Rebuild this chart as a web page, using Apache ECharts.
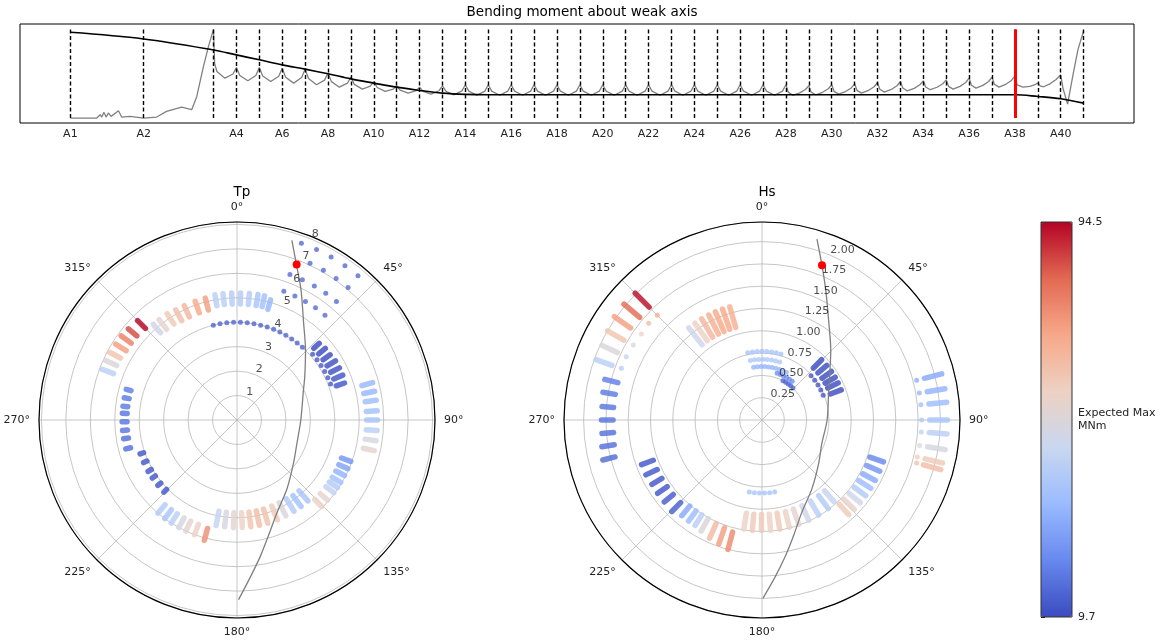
<!DOCTYPE html>
<html><head><meta charset="utf-8">
<script src="https://cdn.jsdelivr.net/npm/echarts@6/dist/echarts.min.js"></script>
<style>html,body{margin:0;padding:0;background:#fff}#c{width:1176px;height:644px}</style>
</head><body><div id="c"></div>
<script>
// ---------------- DATA ----------------
const stations = ['A1','A2','A3','A4','A5','A6','A7','A8','A9','A10','A11','A12','A13','A14','A15','A16','A17','A18','A19','A20','A21','A22','A23','A24','A25','A26','A27','A28','A29','A30','A31','A32','A33','A34','A35','A36','A37','A38','A39','A40','A41'];
const stationPos = [0,3.2,6.25,7.25,8.25,9.25,10.25,11.25,12.25,13.25,14.25,15.25,16.25,17.25,18.25,19.25,20.25,21.25,22.25,23.25,24.25,25.25,26.25,27.25,28.25,29.25,30.25,31.25,32.25,33.25,34.25,35.25,36.25,37.25,38.25,39.25,40.25,41.25,42.25,43.25,44.25];
const stationLabels = ['A1','A2','','A4','','A6','','A8','','A10','','A12','','A14','','A16','','A18','','A20','','A22','','A24','','A26','','A28','','A30','','A32','','A34','','A36','','A38','','A40',''];
const selectedStation = 'A38';
// black curve, value at each station
const momentEnvelope = [91.6,84.9,73.8,68.8,63.8,58.7,54.4,49.7,44.6,40.3,36.2,32.9,30.2,28.9,28.5,28.5,28.5,28.5,28.5,28.5,28.5,28.5,28.5,28.5,28.5,28.5,28.5,28.5,28.5,28.5,28.5,28.5,28.5,28.5,28.5,28.5,28.5,28.5,26.8,24.5,20.1];
// gray curve [position, value]
const momentProfile = [
 [0,5.0],[1.15,5.0],[1.3,8.4],[1.37,6.0],[1.47,10.7],[1.56,6.0],[1.66,10.1],[1.78,6.7],[2.1,12.4],[2.24,6.0],[2.6,6.7],[3.2,5.0],
 [3.77,6.0],[4.2,11.7],[4.86,16.1],[5.3,13.4],[5.52,26.8],[5.81,57.0],[6.03,77.2],[6.25,94.6],
 [6.3,60.0],[6.4,52.0],[6.75,45.3],[7.1,49.5],[7.25,56.0],
 [7.4,48.0],[7.75,42.6],[8.1,48.0],[8.25,56.0],
 [8.4,47.5],[8.75,41.9],[9.1,47.3],[9.25,55.4],
 [9.4,46.3],[9.75,40.3],[10.1,45.9],[10.25,54.4],
 [10.4,44.9],[10.75,38.6],[11.1,43.3],[11.25,50.3],
 [11.4,41.8],[11.75,36.2],[12.1,40.2],[12.25,46.3],
 [12.4,39.0],[12.75,34.2],[13.1,37.3],[13.25,41.9],
 [13.4,35.9],[13.75,31.9],[14.1,34.2],[14.25,37.6],
 [14.4,33.2],[14.75,30.2],[15.1,32.6],[15.25,36.2],
 [15.4,32.0],[15.75,29.2],[16.1,32.6],[16.25,37.6],
 [16.4,32.1],[16.75,28.5],[17.1,32.5],[17.25,38.6],
 [17.4,32.2],[17.75,28.0],[18.1,32.2],[18.25,38.6],
 [18.4,32.2],[18.75,28.0],[19.1,32.2],[19.25,38.6],
 [19.4,32.2],[19.75,28.0],[20.1,32.2],[20.25,38.6],
 [20.4,32.2],[20.75,28.0],[21.1,32.2],[21.25,38.6],
 [21.4,32.2],[21.75,28.0],[22.1,32.2],[22.25,38.6],
 [22.4,32.2],[22.75,28.0],[23.1,32.2],[23.25,38.6],
 [23.4,32.2],[23.75,28.0],[24.1,32.2],[24.25,38.6],
 [24.4,32.2],[24.75,28.0],[25.1,32.2],[25.25,38.6],
 [25.4,32.2],[25.75,28.0],[26.1,32.2],[26.25,38.6],
 [26.4,32.2],[26.75,28.0],[27.1,32.2],[27.25,38.6],
 [27.4,32.2],[27.75,28.0],[28.1,32.2],[28.25,38.6],
 [28.4,32.2],[28.75,28.0],[29.1,32.2],[29.25,38.6],
 [29.4,32.2],[29.75,28.0],[30.1,32.2],[30.25,38.6],
 [30.4,32.2],[30.75,28.0],[31.1,32.2],[31.25,38.6],
 [31.35,31.2],[31.55,28.0],[31.85,30.4],[32.1,33.8],[32.25,37.6],
 [32.35,31.2],[32.55,28.5],[32.85,31.0],[33.1,34.6],[33.25,38.6],
 [33.35,32.0],[33.55,29.2],[33.85,31.8],[34.1,35.4],[34.25,39.6],
 [34.35,33.0],[34.55,30.2],[34.85,32.9],[35.1,36.6],[35.25,40.9],
 [35.35,34.1],[35.55,31.2],[35.85,33.9],[36.1,37.6],[36.25,41.9],
 [36.35,35.3],[36.55,32.5],[36.85,35.0],[37.1,38.6],[37.25,42.6],
 [37.35,36.3],[37.55,33.6],[37.85,36.1],[38.1,39.6],[38.25,43.6],
 [38.35,37.0],[38.55,34.2],[38.85,37.0],[39.1,40.9],[39.25,45.3],
 [39.35,38.2],[39.55,35.2],[39.85,38.0],[40.1,41.9],[40.25,46.3],
 [40.35,39.2],[40.55,36.2],[40.85,39.1],[41.1,43.0],[41.25,47.7],
 [41.35,38.6],[41.6,36.2],[41.9,37.0],[42.1,38.4],[42.25,40.3],
 [42.35,37.5],[42.5,36.6],[42.8,39.8],[43.05,44.0],[43.25,48.7],
 [43.35,35.0],[43.55,19.1],[43.8,50.3],[44.0,73.8],[44.25,93.3]
];

// Polar plots: dashes [direction deg, from, to, expected max MNm], dots [direction deg, value, expected max]
const tpDashes = [
 [47,4.3,4.6,10],[51,4.3,4.65,10],[55,4.3,4.65,10],[59,4.3,4.7,11],[63,4.3,4.7,11],[67,4.3,4.7,12],[71,4.3,4.65,12],
 [350,4.75,5.2,42],[353.7,4.75,5.2,42],[357.6,4.75,5.2,41],[1.6,4.75,5.2,40],[5.6,4.75,5.2,40],[9.5,4.75,5.2,38],[12.5,4.75,5.2,36],[15.6,4.7,5.1,33],
 [345.4,4.65,5.15,72],[340.6,4.65,5.15,70],[335.2,4.65,5.15,66],[330.9,4.65,5.15,64],[326.7,4.7,5.2,60],[322.2,4.7,5.2,55],[318.8,4.75,5.2,48],
 [315,5.3,5.75,94.5],[310,5.35,5.8,86],[306,5.35,5.85,78],[302,5.35,5.85,72],[298,5.4,5.9,62],[294.4,5.4,5.9,52],[290.6,5.4,5.9,42],
 [285.5,4.5,4.7,20],[281.2,4.5,4.7,19],[276.9,4.5,4.7,19],[273.4,4.5,4.7,18],[269.1,4.5,4.7,18],[264.8,4.5,4.7,18],[260.6,4.5,4.7,17],[255.4,4.5,4.7,17],
 [250.7,4.05,4.2,12],[245.5,4.05,4.2,12],[240,4.05,4.2,12],[235.6,4.05,4.2,12],[230.4,4.05,4.2,12],[225.4,4.05,4.2,12],
 [220.3,4.55,5.0,40],[216.2,4.55,5.0,38],[212.5,4.55,5.0,42],[208.4,4.55,5.0,50],[204.7,4.55,5.0,55],[200.3,4.55,5.0,57],[195.2,4.6,5.1,75],
 [191.2,3.8,4.4,45],[186.6,3.8,4.4,50],[181.9,3.8,4.4,55],[177.2,3.8,4.4,58],[172.6,3.8,4.4,62],[168,3.8,4.4,64],[163.4,3.8,4.4,63],[158,3.8,4.4,60],[153,3.8,4.4,52],[148,3.8,4.4,40],[143.5,3.85,4.4,36],[138.8,3.85,4.4,38],
 [110,4.55,4.95,25],[113.7,4.55,4.95,28],[117.3,4.55,4.95,32],[121,4.55,4.95,36],[123.9,4.55,4.95,40],[126.9,4.55,4.95,44],[131.5,4.55,4.95,55],[135.6,4.55,4.95,58],
 [74.6,5.3,5.75,33],[78.2,5.3,5.75,33],[81.9,5.3,5.75,35],[86.2,5.3,5.75,36],[90,5.3,5.75,38],[94.3,5.3,5.75,42],[98.5,5.3,5.75,50],[102.6,5.3,5.75,55]
];
const tpDots = [
 [20,7.7,14],[25,7.7,14],[30,7.7,14],[35,7.7,14],[40,7.7,14],
 [25,7.07,14],[30,7.07,14],[35,7.07,14],[40,7.07,14],
 [20,6.33,14],[25,6.33,14],[30,6.33,14],[35,6.33,14],[40,6.33,14],
 [20,5.6,14],[25,5.6,14],[30,5.6,14],[35,5.6,14],[40,5.6,14],
 [346,4.0,13],[350,4.0,13],[354,4.0,13],[358,4.0,13],[2,4.0,13],[6,4.0,13],[10,4.0,13],[14,4.0,13],[18,4.0,13],[22,4.0,13],[26,4.0,13],[30,4.0,13],[34,4.0,13],[38,4.0,13],[42,4.0,13],
 [49,4.1,10],[53,4.1,10],[57,4.1,10],[61,4.1,10],[65,4.1,10],[69,4.1,10]
];
const hsDashes = [
 [315,1.79,2.01,93],[310,1.79,2.02,82],[305,1.8,2.02,72],[300,1.79,2.0,62],[295,1.79,1.98,52],[290,1.79,1.98,42],
 [284.5,1.67,1.82,20],[279.9,1.67,1.81,19],[274.8,1.67,1.8,18],[270,1.67,1.8,18],[265.2,1.67,1.8,17],[260.5,1.68,1.82,17],[255.9,1.7,1.84,16],
 [249.7,1.3,1.44,12],[244.7,1.3,1.44,12],[239.7,1.3,1.43,12],[234.9,1.3,1.43,12],[230,1.3,1.43,13],[224.6,1.3,1.44,14],
 [220,1.26,1.4,30],[216,1.26,1.4,35],[212.4,1.26,1.4,42],[208.7,1.26,1.42,52],[203.9,1.27,1.45,65],[199.2,1.28,1.47,72],[194.7,1.3,1.5,76],
 [189.5,1.06,1.24,58],[185,1.06,1.24,60],[180.3,1.06,1.24,60],[175.6,1.06,1.24,58],[170.8,1.06,1.24,60],[165.7,1.06,1.24,58],[160.6,1.06,1.24,55],[155,1.06,1.24,48],[149.2,1.06,1.24,42],[143.2,1.06,1.24,40],[138.6,1.06,1.22,45],
 [109,1.28,1.44,22],[113.5,1.28,1.44,25],[118.1,1.28,1.44,30],[122.1,1.28,1.44,35],[126.1,1.28,1.44,40],[130.1,1.28,1.44,48],[134.1,1.28,1.44,56],[137.5,1.28,1.44,60],
 [75.6,1.88,2.08,30],[80.3,1.88,2.08,32],[84.5,1.88,2.08,35],[90,1.88,2.08,38],[94.3,1.88,2.08,42],[99.2,1.88,2.08,50],[103.4,1.88,2.08,60],[105.5,1.88,2.08,64],
 [321.5,1.08,1.32,48],[325.3,1.08,1.32,58],[329.2,1.08,1.32,66],[333.1,1.08,1.32,68],[336.7,1.08,1.32,70],[340.4,1.08,1.32,70],[344.1,1.08,1.32,68],
 [44.7,0.82,0.95,10],[49.9,0.82,0.95,10],[55.1,0.82,0.95,10],[59.7,0.82,0.95,10],[64,0.82,0.95,10],[69.2,0.82,0.95,10]
];
const hsDots = [
 [315,1.66,70],[310.5,1.67,66],[305.5,1.66,58],[300.2,1.67,50],[295,1.68,44],[290.2,1.68,40],
 [75.6,1.79,30],[80.3,1.79,32],[84.5,1.79,35],[90,1.79,38],[94.3,1.79,42],[99.2,1.79,50],[103.4,1.79,60],[105.5,1.8,64],
 [170,0.82,36],[174,0.82,36],[178,0.82,36],[182,0.82,36],[186,0.82,36],[190,0.82,36],
 [348,0.77,36],[352,0.77,36],[356,0.77,36],[0,0.77,36],[4,0.77,36],[8,0.77,36],[12,0.77,36],[16,0.77,36],
 [349,0.68,38],[353,0.68,38],[357,0.68,38],[1,0.68,38],[5,0.68,38],[9,0.68,38],[13,0.68,38],[17,0.68,38],
 [351,0.6,32],[355,0.6,32],[359,0.6,32],[3,0.6,32],[7,0.6,32],[11,0.6,32],[15,0.6,32],[19,0.6,32],[23,0.6,32],[27,0.6,32],
 [18,0.55,22],[22,0.55,22],[26,0.55,22],[30,0.55,22],[34,0.55,22],[38,0.55,22],
 [28,0.5,14],[32,0.5,14],[36,0.5,14],[40,0.5,14],[44,0.5,14],
 [48,0.74,10],[53,0.74,10],[58,0.74,10],[63,0.74,10],[68,0.74,10]
];
// gray heading path [value, direction]
const tpPath = [[7.68,17],[6.72,21.4],[5.93,26.2],[4.8,34.6],[4.0,44.5],[3.29,57.4],[2.98,65.8],[2.61,90],[2.63,111.2],[2.91,127.4],[3.47,143.8],[4.14,156.8],[4.88,164.6],[5.66,170.3],[6.44,175.1],[7.35,179.5]];
const hsPath = [[2.12,16.9],[1.86,21.2],[1.62,26.2],[1.32,34.6],[1.1,44.5],[0.9,57.4],[0.82,65.8],[0.73,90],[0.72,111.2],[0.8,127.4],[0.95,143.8],[1.13,156.8],[1.34,164.6],[1.55,170.3],[1.76,175.1],[2.0,179.7]];
// current state [value, direction]
const tpCurrent = [6.81, 21];
const hsCurrent = [1.86, 21.2];
// ring ticks
const tpRingTicks = [1,2,3,4,5,6,7,8];
const tpRingLabels = ['1','2','3','4','5','6','7','8'];
const hsRingTicks = [0.25,0.5,0.75,1.0,1.25,1.5,1.75,2.0];
const hsRingLabels = ['0.25','0.50','0.75','1.00','1.25','1.50','1.75','2.00'];
const angleTicks = [0,45,90,135,180,225,270,315];
const colorMin = 9.7, colorMax = 94.5;
const colorbarTicks = [9.7, 52.1, 94.5];
const colorbarLabels = ['9.7', 'Expected Max\nMNm', '94.5'];

// ---------------- CHART ----------------
const FONT = 'DejaVu Sans';
const coolwarm = ['#3b4cc0','#6788ee','#9abbff','#c9d7f0','#edd1c2','#f7a889','#e26952','#b40426'];
const chart = echarts.init(document.getElementById('c'));

const allY = momentProfile.map(p => p[1]).concat(momentEnvelope);
const yLo = Math.min(...allY), yHi = Math.max(...allY);
const selPos = stationPos[stations.indexOf(selectedStation)];

function dashRender(width) {
  return function (params, api) {
    const a = api.value(0), r1 = api.value(1), r2 = api.value(2);
    const p1 = api.coord([r1, a]), p2 = api.coord([r2, a]);
    return {type: 'line', shape: {x1: p1[0], y1: p1[1], x2: p2[0], y2: p2[1]},
      style: {stroke: api.visual('color'), lineWidth: width, lineCap: 'round', opacity: 0.82}};
  };
}
const txt = {fontFamily: FONT, fontSize: 11, color: '#222'};

function polarSeries(idx, dashes, dots, path, current, ticks, labels) {
  return [
    {type: 'custom', coordinateSystem: 'polar', polarIndex: idx, renderItem: dashRender(5.5),
     dimensions: ['angle','r1','r2','val'], encode: {angle: 0, radius: [1, 2]}, data: dashes, silent: true, z: 2},
    {type: 'scatter', coordinateSystem: 'polar', polarIndex: idx, symbolSize: 5,
     itemStyle: {opacity: 0.75}, data: dots.map(d => [d[1], d[0], d[2]]), silent: true, z: 2},
    {type: 'line', coordinateSystem: 'polar', polarIndex: idx, data: path, symbol: 'none', smooth: 0.3,
     lineStyle: {color: '#7f7f7f', width: 1.3}, silent: true, z: 3},
    {type: 'scatter', coordinateSystem: 'polar', polarIndex: idx, data: [current], symbolSize: 8,
     itemStyle: {color: '#ff0000', opacity: 1}, silent: true, z: 5},
    {type: 'scatter', coordinateSystem: 'polar', polarIndex: idx, symbolSize: 1,
     itemStyle: {color: 'rgba(0,0,0,0)'}, data: ticks.map(t => [t, 22.5]), silent: true, z: 4,
     label: Object.assign({show: true, position: 'inside', align: 'left', verticalAlign: 'bottom',
       formatter: p => labels[p.dataIndex]}, txt)}
  ];
}

const angleAxisBase = {
  type: 'value', min: 0, max: 360, interval: 45, startAngle: 90, clockwise: true,
  axisLine: {lineStyle: {color: '#000', width: 1.2}}, axisTick: {show: false},
  axisLabel: Object.assign({margin: 9, formatter: v => angleTicks.indexOf(v) >= 0 ? v + '°' : ''}, txt),
  splitLine: {show: true, lineStyle: {color: '#b8b8b8', width: 0.8}}
};
const radiusAxisBase = {
  type: 'value', axisLine: {show: false}, axisTick: {show: false}, axisLabel: {show: false},
  splitLine: {show: true, lineStyle: {color: '#b8b8b8', width: 0.8}}
};

const option = {
  animation: false,
  backgroundColor: '#fff',
  title: [
    {text: 'Bending moment about weak axis', left: 577, top: 0, textAlign: 'center',
     textStyle: {fontFamily: FONT, fontSize: 13.5, fontWeight: 'normal', color: '#000'}},
    {text: 'Tp', left: 237, top: 180, textAlign: 'center',
     textStyle: {fontFamily: FONT, fontSize: 13.5, fontWeight: 'normal', color: '#000'}},
    {text: 'Hs', left: 762, top: 180, textAlign: 'center',
     textStyle: {fontFamily: FONT, fontSize: 13.5, fontWeight: 'normal', color: '#000'}}
  ],
  grid: [
    {left: 20, top: 24, width: 1114, height: 99, show: true, borderColor: '#000', borderWidth: 1},
    {left: 1041, top: 222, width: 31, height: 395, show: true, borderColor: '#333', borderWidth: 1, z: 10}
  ],
  xAxis: [
    {gridIndex: 0, type: 'value', min: -2.2, max: 46.45, show: false},
    {gridIndex: 1, type: 'value', min: 0, max: 1, show: false}
  ],
  yAxis: [
    {gridIndex: 0, type: 'value', min: 0, max: 100, show: false},
    {gridIndex: 1, type: 'value', position: 'right', min: colorMin, max: colorMax,
     interval: (colorMax - colorMin) / 2,
     axisLine: {show: false}, splitLine: {show: false},
     axisTick: {show: true, length: 4, lineStyle: {color: '#000'}},
     axisLabel: Object.assign({margin: 6, lineHeight: 13, formatter: v => {
       const i = colorbarTicks.findIndex(t => Math.abs(t - v) < 0.05);
       return i >= 0 ? colorbarLabels[i] : '';
     }}, txt)}
  ],
  polar: [
    {center: [237, 420], radius: 198},
    {center: [762, 420], radius: 198}
  ],
  angleAxis: [Object.assign({polarIndex: 0}, angleAxisBase), Object.assign({polarIndex: 1}, angleAxisBase)],
  radiusAxis: [
    Object.assign({polarIndex: 0, min: 0, max: 8.1, interval: 1}, radiusAxisBase),
    Object.assign({polarIndex: 1, min: 0, max: 2.22, interval: 0.25}, radiusAxisBase)
  ],
  visualMap: [
    {type: 'continuous', min: colorMin, max: colorMax, dimension: 3, seriesIndex: [2, 7],
     left: 1041, top: 222, itemWidth: 31, itemHeight: 395, calculable: false, hoverLink: false,
     padding: 0, inRange: {color: coolwarm}},
    {type: 'continuous', show: false, min: colorMin, max: colorMax, dimension: 2, seriesIndex: [3, 8],
     inRange: {color: coolwarm}}
  ],
  series: [
    {type: 'line', xAxisIndex: 0, yAxisIndex: 0, data: momentProfile, symbol: 'none',
     lineStyle: {color: '#808080', width: 1.3}, silent: true, z: 3,
     markLine: {silent: true, symbol: ['none', 'none'], animation: false,
       lineStyle: {color: '#000', type: [4, 2.5], width: 1.4},
       label: Object.assign({show: true, position: 'start', distance: 11, formatter: '{b}'}, txt),
       emphasis: {disabled: true},
       data: stationPos.map((x, i) => [{coord: [x, yLo], name: stationLabels[i]}, {coord: [x, yHi]}])}},
    {type: 'line', xAxisIndex: 0, yAxisIndex: 0, data: stationPos.map((x, i) => [x, momentEnvelope[i]]),
     symbol: 'none', smooth: 0.35, lineStyle: {color: '#000', width: 1.6}, silent: true, z: 4,
     markLine: {silent: true, symbol: ['none', 'none'], animation: false,
       lineStyle: {color: '#ff0000', type: 'solid', width: 3}, label: {show: false},
       emphasis: {disabled: true},
       data: [[{coord: [selPos, yLo]}, {coord: [selPos, yHi]}]]}}
  ].concat(
    polarSeries(0, tpDashes, tpDots, tpPath, tpCurrent, tpRingTicks, tpRingLabels),
    polarSeries(1, hsDashes, hsDots, hsPath, hsCurrent, hsRingTicks, hsRingLabels)
  )
};
chart.setOption(option);
</script>
</body></html>
